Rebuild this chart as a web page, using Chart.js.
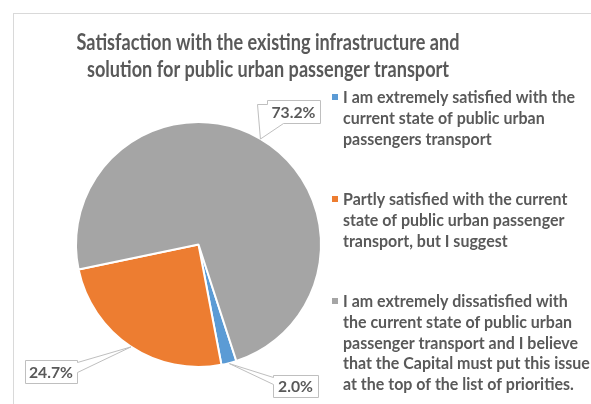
<!DOCTYPE html>
<html>
<head>
<meta charset="utf-8">
<script src="https://cdn.jsdelivr.net/npm/chart.js@4/dist/chart.umd.min.js"></script>
<style>
  html, body { margin: 0; padding: 0; background: #ffffff; }
  #wrap { width: 591px; height: 404px; position: relative; }
</style>
</head>
<body>
<div id="wrap"><canvas id="c" width="591" height="404"></canvas></div>
<script>
// Survey answers, one legend entry per slice (already split into lines)
const categories = [
  ["I am extremely satisfied with the", "current state of public urban", "passengers transport"],
  ["Partly satisfied with the current", "state of public urban passenger", "transport, but I suggest"],
  ["I am extremely dissatisfied with", "the current state of public urban", "passenger transport and I believe",
   "that the Capital must put this issue", "at the top of the list of priorities."]
];
// Share of respondents, percent
const shares = [2.0, 24.7, 73.2];
const titleLines = ["Satisfaction with the existing infrastructure and",
                    "solution for public urban passenger transport"];
const sliceColors = ["#5B9BD5", "#ED7D31", "#A5A5A5"];

const TEXT = "#595959";
const FONT = "Lato, 'Open Sans', sans-serif";

// draw text squeezed horizontally so it reads like a condensed face
function condensedText(ctx, str, x, y, align, sx) {
  ctx.save();
  ctx.translate(x, y);
  ctx.scale(sx, 1);
  ctx.textAlign = align;
  ctx.fillText(str, 0, 0);
  ctx.restore();
}
function fitScale(ctx, font, str, width) {
  ctx.save();
  ctx.font = font;
  const w = ctx.measureText(str).width;
  ctx.restore();
  return Math.min(1, width / w);
}

// frame, title and the wrapped legend on the right
const decorPlugin = {
  id: "decor",
  beforeDraw(chart) {
    const ctx = chart.ctx;
    ctx.save();
    ctx.fillStyle = "#ffffff";
    ctx.fillRect(0, 0, chart.width, chart.height);
    ctx.strokeStyle = "#d9d9d9";
    ctx.lineWidth = 1;
    ctx.strokeRect(13.5, 13.5, 640, 440);
    ctx.restore();
  },
  afterDraw(chart) {
    const ctx = chart.ctx;
    ctx.save();
    ctx.fillStyle = TEXT;
    ctx.textBaseline = "alphabetic";

    const tFont = "bold 22px " + FONT;
    const tsx = fitScale(ctx, tFont, titleLines[0], 383);
    ctx.font = tFont;
    titleLines.forEach((line, i) => condensedText(ctx, line, 268, 49.5 + i * 27, "center", tsx));

    const lFont = "bold 17px " + FONT;
    const lsx = fitScale(ctx, lFont, categories[0][0], 232);
    ctx.font = lFont;
    const tops = [103, 205, 307];
    categories.forEach((lines, i) => {
      ctx.fillStyle = sliceColors[i];
      ctx.fillRect(332, tops[i] - 9, 6, 6);
      ctx.fillStyle = TEXT;
      lines.forEach((line, j) => condensedText(ctx, line, 343, tops[i] + j * 20.8, "left", lsx));
    });
    ctx.restore();
  }
};

// value callouts: box with a wedge pointing at the middle of each slice's rim
const calloutBoxes = [
  { x: 273, y: 375, w: 45, h: 22, tail: (b, t) => [[b.x, b.y], [b.x + b.w, b.y], [b.x + b.w, b.y + b.h], [b.x, b.y + b.h], [b.x, b.y + 9], t, [b.x, b.y + 2]] },
  { x: 25, y: 360, w: 52, h: 23, tail: (b, t) => [[b.x, b.y], [b.x + b.w, b.y], [b.x + b.w, b.y + 2], t, [b.x + b.w, b.y + 12], [b.x + b.w, b.y + b.h], [b.x, b.y + b.h]] },
  { x: 267, y: 100, w: 53, h: 23, tail: (b, t) => [[b.x, b.y], [b.x + b.w, b.y], [b.x + b.w, b.y + b.h], [b.x + 16, b.y + b.h], t, [b.x - 10, b.y + 4], [b.x, b.y + 4]] }
];
const calloutPlugin = {
  id: "callouts",
  afterDatasetsDraw(chart) {
    const ctx = chart.ctx;
    const arcs = chart.getDatasetMeta(0).data;
    const vFont = "bold 16px " + FONT;
    const vsx = fitScale(ctx, vFont, "73.2%", 44);
    ctx.save();
    arcs.forEach((arc, i) => {
      const p = arc.getProps(["x", "y", "startAngle", "endAngle", "outerRadius"], true);
      const mid = (p.startAngle + p.endAngle) / 2;
      const tip = [p.x + Math.cos(mid) * p.outerRadius, p.y + Math.sin(mid) * p.outerRadius];
      const b = calloutBoxes[i];
      const pts = b.tail(b, tip);
      ctx.beginPath();
      pts.forEach((pt, k) => k ? ctx.lineTo(pt[0] + 0.5, pt[1] + 0.5) : ctx.moveTo(pt[0] + 0.5, pt[1] + 0.5));
      ctx.closePath();
      ctx.fillStyle = "#ffffff";
      ctx.fill();
      ctx.strokeStyle = "#bfbfbf";
      ctx.lineWidth = 1;
      ctx.stroke();
      ctx.fillStyle = TEXT;
      ctx.font = vFont;
      ctx.textBaseline = "middle";
      condensedText(ctx, shares[i].toFixed(1) + "%", b.x + b.w / 2, b.y + b.h / 2 + 1, "center", vsx);
    });
    ctx.restore();
  }
};

new Chart(document.getElementById("c"), {
  type: "pie",
  data: {
    labels: categories,
    datasets: [{
      data: shares,
      backgroundColor: sliceColors,
      borderColor: "#ffffff",
      borderWidth: 2,
      hoverOffset: 0
    }]
  },
  options: {
    responsive: false,
    animation: false,
    events: [],
    rotation: 162,
    layout: { padding: { left: 75, right: 269, top: 121, bottom: 36 } },
    plugins: {
      legend: { display: false },
      title: { display: false },
      tooltip: { enabled: false }
    }
  },
  plugins: [decorPlugin, calloutPlugin]
});
</script>
</body>
</html>
